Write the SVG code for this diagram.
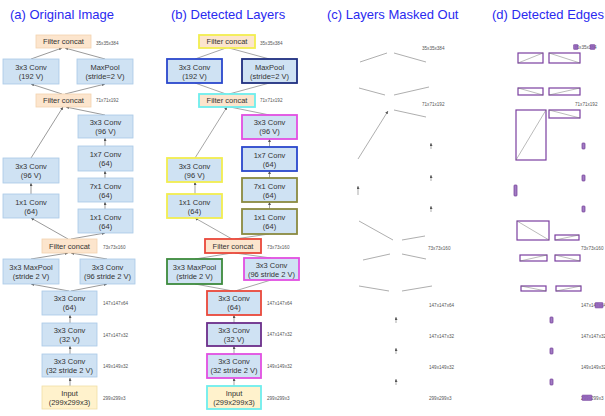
<svg xmlns="http://www.w3.org/2000/svg" width="605" height="416" viewBox="0 0 605 416">
<style>
.bg{fill:#ffffff}
.title{font-family:"Liberation Sans",Arial,sans-serif;font-size:13px;fill:#2a2af0}
.t{font-family:"Liberation Sans",Arial,sans-serif;font-size:7.5px;fill:#333333;text-anchor:middle}
.dim{font-family:"Liberation Sans",Arial,sans-serif;font-size:4.6px;fill:#555555}
.conv{fill:#cfe2f3;stroke:#a9c8e6;stroke-width:0.8}
.cat{fill:#fce5cd;stroke:#f3d2ae;stroke-width:0.8}
.inp{fill:#fff2cc;stroke:#f0dfa6;stroke-width:0.8}
.e{stroke:#555555;stroke-width:0.6;fill:none}
.eb{stroke:#6a6a6a;stroke-width:0.6;fill:none}
.ec{stroke:#777777;stroke-width:0.6;fill:none}
.b2{stroke-width:1.8}
.yel{stroke:#f2ee4f}.blu{stroke:#2a47cc}.nav{stroke:#1f2f80}.cya{stroke:#6eeeee}.mag{stroke:#e24fe2}.oli{stroke:#8a8a40}.red{stroke:#e9473a}.grn{stroke:#3c8a3c}.pur{stroke:#6b2e8a}
.db{fill:none;stroke:#7b3fa0;stroke-width:1.2}
.dl{stroke:#777777;stroke-width:0.5}
.ds{fill:#a27dc4;stroke:#6d3592;stroke-width:0.7}
.dh{fill:#8e5db8;stroke:#6d3592;stroke-width:0.5;opacity:0.9}
</style>
<defs>
<marker id="ah" viewBox="0 0 6 6" refX="6" refY="3" markerWidth="3" markerHeight="3" orient="auto" markerUnits="userSpaceOnUse"><path d="M0,0 L6,3 L0,6 z" fill="#555555"/></marker>
</defs>
<rect class="bg" x="0" y="0" width="605" height="416"/>

<g id="titles">
<text class="title" x="10" y="19">(a) Original Image</text>
<text class="title" x="171" y="19">(b) Detected Layers</text>
<text class="title" x="327" y="19">(c) Layers Masked Out</text>
<text class="title" x="492" y="19">(d) Detected Edges</text>
</g>

<!-- ===== Panel (a) ===== -->
<g id="a-connectors">
<line class="e" x1="70" y1="386" x2="70" y2="378" marker-end="url(#ah)"/>
<line class="e" x1="70" y1="354" x2="70" y2="346" marker-end="url(#ah)"/>
<line class="e" x1="70" y1="323" x2="70" y2="315" marker-end="url(#ah)"/>
<line class="e" x1="69" y1="291" x2="31" y2="284" marker-end="url(#ah)"/>
<line class="e" x1="71" y1="291" x2="107" y2="284" marker-end="url(#ah)"/>
<line class="e" x1="31" y1="259" x2="68" y2="253" marker-end="url(#ah)"/>
<line class="e" x1="107" y1="259" x2="71" y2="253" marker-end="url(#ah)"/>
<line class="e" x1="68" y1="239" x2="31" y2="218" marker-end="url(#ah)"/>
<line class="e" x1="71" y1="239" x2="105" y2="233" marker-end="url(#ah)"/>
<line class="e" x1="31" y1="194" x2="31" y2="183" marker-end="url(#ah)"/>
<line class="e" x1="31" y1="158" x2="63" y2="107" marker-end="url(#ah)"/>
<line class="e" x1="105" y1="209" x2="105" y2="202" marker-end="url(#ah)"/>
<line class="e" x1="105" y1="178" x2="105" y2="171" marker-end="url(#ah)"/>
<line class="e" x1="105" y1="146" x2="105" y2="138" marker-end="url(#ah)"/>
<line class="e" x1="105" y1="115" x2="66" y2="107" marker-end="url(#ah)"/>
<line class="e" x1="62" y1="94" x2="31" y2="84" marker-end="url(#ah)"/>
<line class="e" x1="65" y1="94" x2="105" y2="84" marker-end="url(#ah)"/>
<line class="e" x1="31" y1="59" x2="62" y2="48" marker-end="url(#ah)"/>
<line class="e" x1="105" y1="59" x2="65" y2="48" marker-end="url(#ah)"/>
</g>
<g id="a-concat1"><rect class="cat" x="36" y="35" width="55" height="13"/><text class="t" x="63.5" y="44.2">Filter concat</text></g>
<g id="a-conv192"><rect class="conv" x="3" y="59" width="56" height="25"/><text class="t" x="31" y="69.5">3x3 Conv</text><text class="t" x="31" y="78.5">(192 V)</text></g>
<g id="a-maxpool"><rect class="conv" x="77" y="59" width="56" height="25"/><text class="t" x="105" y="69.5">MaxPool</text><text class="t" x="105" y="78.5">(stride=2 V)</text></g>
<g id="a-concat2"><rect class="cat" x="36" y="94" width="55" height="13"/><text class="t" x="63.5" y="103.2">Filter concat</text></g>
<g id="a-r3x3"><rect class="conv" x="78" y="115" width="55" height="23"/><text class="t" x="105.5" y="124.5">3x3 Conv</text><text class="t" x="105.5" y="133.5">(96 V)</text></g>
<g id="a-1x7"><rect class="conv" x="78" y="146" width="55" height="25"/><text class="t" x="105.5" y="156.5">1x7 Conv</text><text class="t" x="105.5" y="165.5">(64)</text></g>
<g id="a-7x1"><rect class="conv" x="78" y="178" width="55" height="24"/><text class="t" x="105.5" y="188.5">7x1 Conv</text><text class="t" x="105.5" y="197.5">(64)</text></g>
<g id="a-r1x1"><rect class="conv" x="78" y="209" width="55" height="24"/><text class="t" x="105.5" y="219.5">1x1 Conv</text><text class="t" x="105.5" y="228.5">(64)</text></g>
<g id="a-l3x3"><rect class="conv" x="3" y="158" width="56" height="25"/><text class="t" x="31" y="168.5">3x3 Conv</text><text class="t" x="31" y="177.5">(96 V)</text></g>
<g id="a-l1x1"><rect class="conv" x="3" y="194" width="56" height="24"/><text class="t" x="31" y="204.5">1x1 Conv</text><text class="t" x="31" y="213.5">(64)</text></g>
<g id="a-concat3"><rect class="cat" x="42" y="239" width="55" height="14"/><text class="t" x="69.5" y="248.7">Filter concat</text></g>
<g id="a-maxpool3"><rect class="conv" x="3" y="259" width="56" height="25"/><text class="t" x="31" y="269.5">3x3 MaxPool</text><text class="t" x="31" y="278.5">(stride 2 V)</text></g>
<g id="a-conv96s"><rect class="conv" x="80" y="259" width="55" height="25"/><text class="t" x="107.5" y="269.5">3x3 Conv</text><text class="t" x="107.5" y="278.5">(96 stride 2 V)</text></g>
<g id="a-conv64"><rect class="conv" x="42" y="291" width="55" height="24"/><text class="t" x="69.5" y="301">3x3 Conv</text><text class="t" x="69.5" y="310">(64)</text></g>
<g id="a-conv32v"><rect class="conv" x="42" y="323" width="55" height="23"/><text class="t" x="69.5" y="332.5">3x3 Conv</text><text class="t" x="69.5" y="341.5">(32 V)</text></g>
<g id="a-conv32s"><rect class="conv" x="42" y="354" width="55" height="23"/><text class="t" x="69.5" y="363.5">3x3 Conv</text><text class="t" x="69.5" y="372.5">(32 stride 2 V)</text></g>
<g id="a-input"><rect class="inp" x="42" y="386" width="55" height="23"/><text class="t" x="69.5" y="395.5">Input</text><text class="t" x="69.5" y="404.5">(299x299x3)</text></g>
<g id="a-dims">
<text class="dim" x="96" y="45">35x35x384</text>
<text class="dim" x="96" y="102">71x71x192</text>
<text class="dim" x="103" y="248.5">73x73x160</text>
<text class="dim" x="103" y="305">147x147x64</text>
<text class="dim" x="103" y="336.5">147x147x32</text>
<text class="dim" x="103" y="367.5">149x149x32</text>
<text class="dim" x="103" y="399.5">299x299x3</text>
</g>

<!-- ===== Panel (b) ===== -->
<g id="b-connectors">
<line class="eb" x1="234" y1="386" x2="234" y2="378" marker-end="url(#ah)"/>
<line class="eb" x1="234" y1="354" x2="234" y2="346" marker-end="url(#ah)"/>
<line class="eb" x1="234" y1="323" x2="234" y2="315" marker-end="url(#ah)"/>
<line class="eb" x1="233" y1="291" x2="195" y2="284"/>
<line class="eb" x1="235" y1="291" x2="271" y2="280"/>
<line class="eb" x1="195" y1="259" x2="232" y2="253"/>
<line class="eb" x1="271" y1="258" x2="235" y2="253"/>
<line class="eb" x1="232" y1="239" x2="195" y2="218" marker-end="url(#ah)"/>
<line class="eb" x1="235" y1="239" x2="269" y2="234"/>
<line class="eb" x1="195" y1="194" x2="195" y2="182" marker-end="url(#ah)"/>
<line class="eb" x1="195" y1="158" x2="227" y2="107" marker-end="url(#ah)"/>
<line class="eb" x1="269.5" y1="209" x2="269.5" y2="202" marker-end="url(#ah)"/>
<line class="eb" x1="269.5" y1="178" x2="269.5" y2="171" marker-end="url(#ah)"/>
<line class="eb" x1="269.5" y1="147" x2="269.5" y2="139" marker-end="url(#ah)"/>
<line class="eb" x1="269.5" y1="115" x2="230" y2="107"/>
<line class="eb" x1="226" y1="94" x2="195" y2="83"/>
<line class="eb" x1="229" y1="94" x2="269.5" y2="83"/>
<line class="eb" x1="195" y1="59" x2="226" y2="48"/>
<line class="eb" x1="269.5" y1="59" x2="229" y2="48"/>
</g>
<g id="b-concat1"><rect class="cat b2 yel" x="199" y="35" width="56" height="13"/><text class="t" x="227" y="44.2">Filter concat</text></g>
<g id="b-conv192"><rect class="conv b2 blu" x="167" y="59" width="55" height="24"/><text class="t" x="194.5" y="69.5">3x3 Conv</text><text class="t" x="194.5" y="78.5">(192 V)</text></g>
<g id="b-maxpool"><rect class="conv b2 nav" x="242" y="59" width="55" height="24"/><text class="t" x="269.5" y="69.5">MaxPool</text><text class="t" x="269.5" y="78.5">(stride=2 V)</text></g>
<g id="b-concat2"><rect class="cat b2 cya" x="199" y="94" width="56" height="13"/><text class="t" x="227" y="103.2">Filter concat</text></g>
<g id="b-r3x3"><rect class="conv b2 mag" x="242" y="115" width="55" height="24"/><text class="t" x="269.5" y="125">3x3 Conv</text><text class="t" x="269.5" y="134">(96 V)</text></g>
<g id="b-1x7"><rect class="conv b2 blu" x="242" y="147" width="55" height="24"/><text class="t" x="269.5" y="157.5">1x7 Conv</text><text class="t" x="269.5" y="166.5">(64)</text></g>
<g id="b-7x1"><rect class="conv b2 oli" x="242" y="178" width="55" height="24"/><text class="t" x="269.5" y="188.5">7x1 Conv</text><text class="t" x="269.5" y="197.5">(64)</text></g>
<g id="b-r1x1"><rect class="conv b2 oli" x="242" y="209" width="55" height="25"/><text class="t" x="269.5" y="219.5">1x1 Conv</text><text class="t" x="269.5" y="228.5">(64)</text></g>
<g id="b-l3x3"><rect class="conv b2 yel" x="167" y="158" width="55" height="24"/><text class="t" x="194.5" y="168.5">3x3 Conv</text><text class="t" x="194.5" y="177.5">(96 V)</text></g>
<g id="b-l1x1"><rect class="conv b2 yel" x="167" y="194" width="55" height="24"/><text class="t" x="194.5" y="204.5">1x1 Conv</text><text class="t" x="194.5" y="213.5">(64)</text></g>
<g id="b-concat3"><rect class="cat b2 red" x="205" y="239" width="56" height="14"/><text class="t" x="233" y="248.7">Filter concat</text></g>
<g id="b-maxpool3"><rect class="conv b2 grn" x="167" y="259" width="55" height="25"/><text class="t" x="194.5" y="269.5">3x3 MaxPool</text><text class="t" x="194.5" y="278.5">(stride 2 V)</text></g>
<g id="b-conv96s"><rect class="conv b2 mag" x="244" y="258" width="55" height="22"/><text class="t" x="271.5" y="268">3x3 Conv</text><text class="t" x="271.5" y="277">(96 stride 2 V)</text></g>
<g id="b-conv64"><rect class="conv b2 red" x="207" y="291" width="54" height="24"/><text class="t" x="234" y="301">3x3 Conv</text><text class="t" x="234" y="310">(64)</text></g>
<g id="b-conv32v"><rect class="conv b2 pur" x="207" y="323" width="54" height="23"/><text class="t" x="234" y="332.5">3x3 Conv</text><text class="t" x="234" y="341.5">(32 V)</text></g>
<g id="b-conv32s"><rect class="conv b2 mag" x="207" y="354" width="54" height="24"/><text class="t" x="234" y="364">3x3 Conv</text><text class="t" x="234" y="373">(32 stride 2 V)</text></g>
<g id="b-input"><rect class="inp b2 cya" x="207" y="386" width="54" height="23"/><text class="t" x="234" y="395.5">Input</text><text class="t" x="234" y="404.5">(299x299x3)</text></g>
<g id="b-dims">
<text class="dim" x="260" y="45">35x35x384</text>
<text class="dim" x="260" y="102">71x71x192</text>
<text class="dim" x="267" y="249">73x73x160</text>
<text class="dim" x="267" y="304.5">147x147x64</text>
<text class="dim" x="267" y="336">147x147x32</text>
<text class="dim" x="267" y="367.5">149x149x32</text>
<text class="dim" x="267" y="399.5">299x299x3</text>
</g>

<!-- ===== Panel (c) ===== -->
<g id="c-connectors">
<line class="ec" x1="360" y1="62" x2="387" y2="53"/>
<line class="ec" x1="394" y1="53" x2="426" y2="62"/>
<line class="ec" x1="359" y1="88" x2="385" y2="95"/>
<line class="ec" x1="394" y1="95" x2="429" y2="87"/>
<line class="ec" x1="358" y1="159" x2="388" y2="111" marker-end="url(#ah)"/>
<line class="ec" x1="394" y1="110" x2="426" y2="117"/>
<line class="ec" x1="431" y1="149" x2="431" y2="143" marker-end="url(#ah)"/>
<line class="ec" x1="431" y1="181" x2="431" y2="175" marker-end="url(#ah)"/>
<line class="ec" x1="431" y1="212" x2="431" y2="206" marker-end="url(#ah)"/>
<line class="ec" x1="358" y1="195" x2="358" y2="186" marker-end="url(#ah)"/>
<line class="ec" x1="359" y1="221" x2="393" y2="240"/>
<line class="ec" x1="402" y1="240" x2="425" y2="236"/>
<line class="ec" x1="363" y1="260" x2="390" y2="254"/>
<line class="ec" x1="402" y1="254" x2="426" y2="259"/>
<line class="ec" x1="359" y1="286" x2="389" y2="291"/>
<line class="ec" x1="402" y1="291" x2="432" y2="286"/>
<line class="ec" x1="396" y1="323" x2="396" y2="317" marker-end="url(#ah)"/>
<line class="ec" x1="396" y1="354" x2="396" y2="348" marker-end="url(#ah)"/>
<line class="ec" x1="396" y1="385" x2="396" y2="379" marker-end="url(#ah)"/>
</g>
<g id="c-dims">
<text class="dim" x="422" y="49.5">35x35x384</text>
<text class="dim" x="422" y="105.5">71x71x192</text>
<text class="dim" x="428" y="249.5">73x73x160</text>
<text class="dim" x="429" y="306.5">147x147x64</text>
<text class="dim" x="429" y="337.5">147x147x32</text>
<text class="dim" x="429" y="368.5">149x149x32</text>
<text class="dim" x="429" y="399.5">299x299x3</text>
</g>

<!-- ===== Panel (d) ===== -->
<g id="d-edges">
<rect class="db" x="518" y="53" width="25" height="10"/><line class="dl" x1="518" y1="63" x2="543" y2="53"/>
<rect class="db" x="549" y="53" width="31" height="10"/><line class="dl" x1="549" y1="53" x2="580" y2="63"/>
<rect class="db" x="518" y="88" width="25" height="7"/><line class="dl" x1="518" y1="88" x2="543" y2="95"/>
<rect class="db" x="549" y="88" width="31" height="7"/><line class="dl" x1="549" y1="95" x2="580" y2="88"/>
<rect class="db" x="516" y="110" width="30" height="50"/><line class="dl" x1="516" y1="160" x2="546" y2="110"/>
<rect class="db" x="549" y="110" width="31" height="8"/><line class="dl" x1="549" y1="110" x2="580" y2="118"/>
<rect class="db" x="517" y="221" width="32" height="19"/><line class="dl" x1="517" y1="221" x2="549" y2="240"/>
<rect class="db" x="555" y="235" width="24" height="5"/><line class="dl" x1="555" y1="240" x2="579" y2="235"/>
<rect class="db" x="520" y="255" width="27" height="6"/><line class="dl" x1="520" y1="261" x2="547" y2="255"/>
<rect class="db" x="555" y="255" width="25" height="6"/><line class="dl" x1="555" y1="255" x2="580" y2="261"/>
<rect class="db" x="521" y="286" width="25" height="5"/><line class="dl" x1="521" y1="286" x2="546" y2="291"/>
<rect class="db" x="556" y="286" width="25" height="5"/><line class="dl" x1="556" y1="291" x2="581" y2="286"/>
<rect class="ds" x="582" y="143" width="3" height="6" rx="0.8"/>
<rect class="ds" x="582" y="175" width="3" height="6" rx="0.8"/>
<rect class="ds" x="582" y="206" width="3" height="6" rx="0.8"/>
<rect class="ds" x="514" y="185" width="3" height="11" rx="0.8"/>
<rect class="ds" x="550" y="317" width="3" height="6" rx="0.8"/>
<rect class="ds" x="550" y="348" width="3" height="6" rx="0.8"/>
<rect class="ds" x="550" y="379" width="3" height="6" rx="0.8"/>
</g>
<g id="d-dims">
<text class="dim" x="574" y="48.5">35x35x384</text>
<text class="dim" x="575" y="105.5">71x71x192</text>
<text class="dim" x="581" y="249.5">73x73x160</text>
<text class="dim" x="581" y="306.5">147x147x64</text>
<text class="dim" x="581" y="337.5">147x147x32</text>
<text class="dim" x="581" y="368.5">149x149x32</text>
<text class="dim" x="581" y="399.5">299x299x3</text>
<rect class="dh" x="573.5" y="44.5" width="4.5" height="5" rx="0.8"/>
<rect class="dh" x="590" y="44.5" width="5" height="5" rx="0.8"/>
<rect class="dh" x="595" y="302.5" width="8" height="5.5" rx="0.8"/>
<rect class="dh" x="582" y="395" width="10" height="5.5" rx="0.8"/>
</g>
</svg>
